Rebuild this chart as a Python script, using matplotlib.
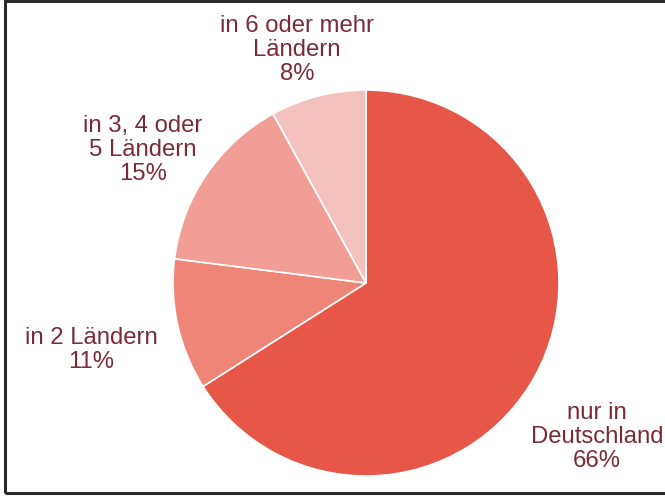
import matplotlib
matplotlib.use("Agg")
import matplotlib.pyplot as plt
from matplotlib.patches import Rectangle

labels = ["nur in\nDeutschland\n66%", "in 2 Ländern\n11%", "in 3, 4 oder\n5 Ländern\n15%", "in 6 oder mehr\nLändern\n8%"]
values = [66, 11, 15, 8]
colors = ["#E65748", "#EE8578", "#F19F96", "#F4C2BD"]

W, H = 665, 497
fig = plt.figure(figsize=(W / 100, H / 100), dpi=100)
fig.patch.set_facecolor("white")

cx, cy, r = 366, 283, 193
ax = fig.add_axes([(cx - r) / W, (H - cy - r) / H, 2 * r / W, 2 * r / H])
ax.pie(values, colors=colors, startangle=90, counterclock=False, radius=1,
       wedgeprops=dict(edgecolor="white", linewidth=1.2))
ax.set_xlim(-1, 1)
ax.set_ylim(-1, 1)
ax.set_aspect("equal")
ax.axis("off")

# label centres in pixel coordinates
label_pos = [(597, 437), (91, 350), (143, 150), (297, 50)]
for lab, (px, py) in zip(labels, label_pos):
    fig.text(px / W, 1 - py / H, lab, ha="center", va="center",
             fontsize=17.2, color="#7A2A38", family="Liberation Sans",
             linespacing=1.1, multialignment="center")

# frame
fig.add_artist(Rectangle((4.5 / W, 1 - 492.5 / H), (700 - 4.5) / W, (492.5 - 1) / H,
                         transform=fig.transFigure, fill=False,
                         edgecolor="#2B2B2B", linewidth=2.2, clip_on=False))

fig.savefig("out.png", dpi=100)
